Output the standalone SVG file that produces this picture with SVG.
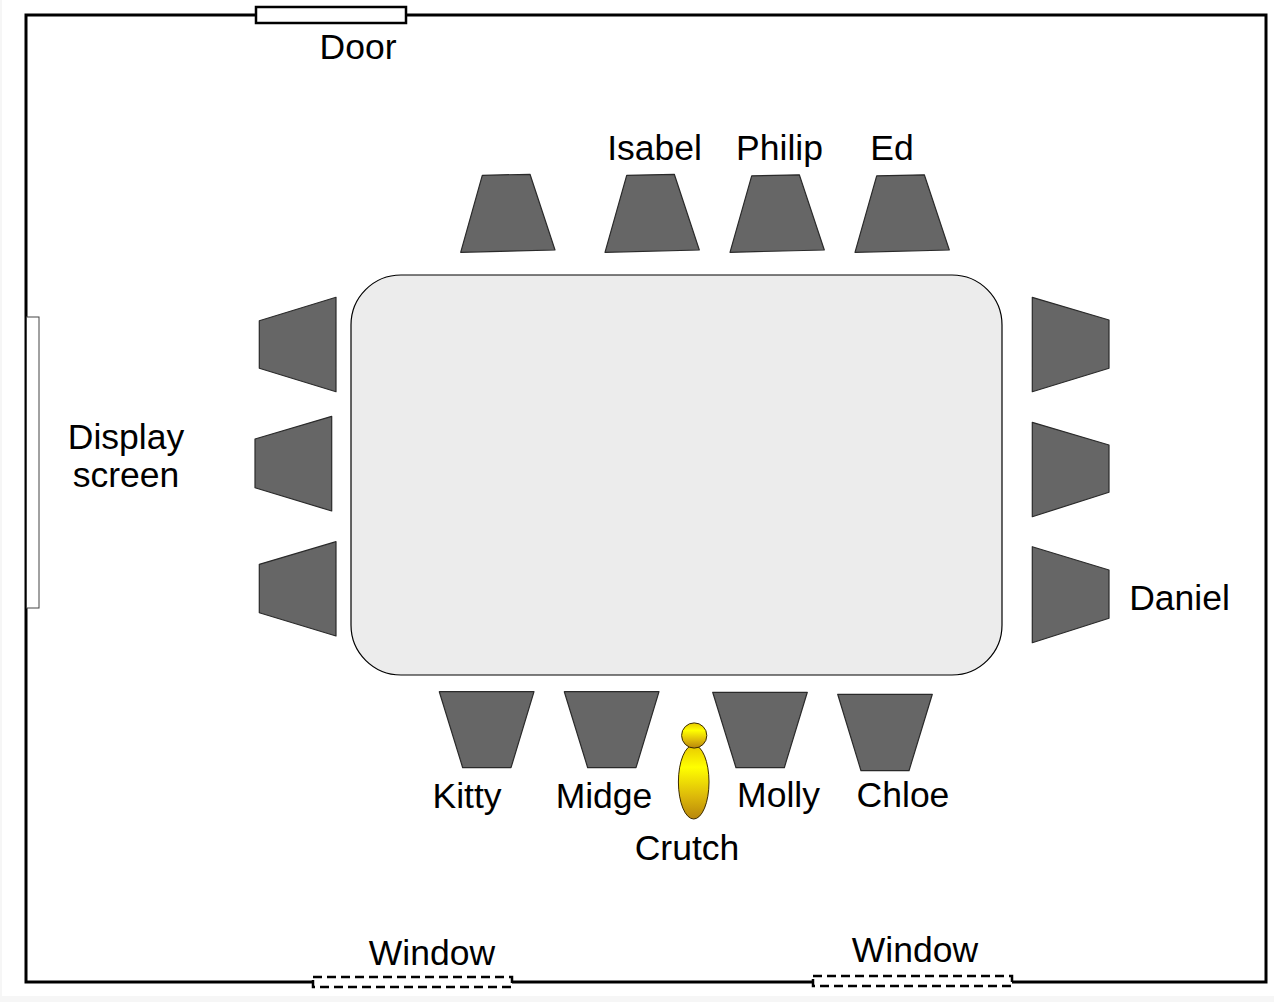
<svg xmlns="http://www.w3.org/2000/svg" width="1274" height="1002" viewBox="0 0 1274 1002">
<defs>
<style>
.wall{fill:none;stroke:#000;stroke-width:3}
.chair{fill:#666;stroke:#2a2a2a;stroke-width:1.2;stroke-linejoin:round}
.lbl{font-family:"Liberation Sans",Arial,sans-serif;font-size:35.5px;fill:#000;text-anchor:middle}
.win{fill:#fff;stroke:#000;stroke-width:2.5;stroke-dasharray:9,5}
</style>
<linearGradient id="gold" x1="0" y1="0" x2="0" y2="1">
<stop offset="0" stop-color="#e8c800"/>
<stop offset="0.3" stop-color="#ffff00"/>
<stop offset="0.7" stop-color="#dcb80a"/>
<stop offset="1" stop-color="#b8860b"/>
</linearGradient>
</defs>
<rect x="0" y="0" width="1274" height="1002" fill="#f6f6f6"/>
<rect x="2" y="0" width="1272" height="996" fill="#fff"/>
<g id="room">
<rect class="wall" x="26" y="15" width="1240" height="967"/>
</g>
<g id="door">
<rect x="256" y="7" width="150" height="16" fill="#fff" stroke="#000" stroke-width="2.5"/>
<text class="lbl" x="358" y="59">Door</text>
</g>
<g id="display-screen">
<rect x="26.5" y="317" width="12.5" height="291" fill="#fff" stroke="#444" stroke-width="1"/>
<text class="lbl" x="126" y="449">Display</text>
<text class="lbl" x="126" y="487">screen</text>
</g>
<g id="window-1">
<rect class="win" x="313" y="977" width="199" height="10"/>
<text class="lbl" x="432" y="965">Window</text>
</g>
<g id="window-2">
<rect class="win" x="813" y="976" width="199" height="10"/>
<text class="lbl" x="915" y="962">Window</text>
</g>
<g id="table">
<rect x="351" y="275" width="651" height="400" rx="50" ry="50" fill="#ececec" stroke="#000" stroke-width="1.2"/>
</g>
<g id="chairs-top">
<polygon class="chair" points="482.3,175.3 530,174.3 555,250 460.7,252.3"/>
<polygon class="chair" points="626.7,175.3 674.3,174.3 699.3,250 605,252.3"/>
<polygon class="chair" points="751.7,175.8 799.3,174.8 824.3,250 730,252.3"/>
<polygon class="chair" points="876.7,175.8 924.3,174.8 949.3,250 855,252.3"/>
</g>
<g id="chairs-left">
<polygon class="chair" points="336,297.3 336,391.7 259.3,368.3 259.3,320.7"/>
<polygon class="chair" points="331.7,416.3 331.7,511 255,487.7 255,439"/>
<polygon class="chair" points="336,541.7 336,636 259.3,612.7 259.3,564.3"/>
</g>
<g id="chairs-right">
<polygon class="chair" points="1032.3,297.3 1109,320 1109,368.3 1032.3,391.7"/>
<polygon class="chair" points="1032.3,422.3 1109,445 1109,492.3 1032.3,516.7"/>
<polygon class="chair" points="1032.3,546.7 1109,570 1109,618.3 1032.3,642.7"/>
</g>
<g id="chairs-bottom">
<polygon class="chair" points="439.3,691.7 534,691.7 511,767.7 462.7,767.7"/>
<polygon class="chair" points="564.3,691.7 659,691.7 636,767.7 587.7,767.7"/>
<polygon class="chair" points="712.7,692.3 807.3,692.3 784.3,767.7 736,767.7"/>
<polygon class="chair" points="837.7,694.3 932.3,694.3 909,770.7 861,770.7"/>
</g>
<g id="crutch">
<ellipse cx="693.7" cy="782" rx="15.3" ry="37" fill="url(#gold)" stroke="#3a2a00" stroke-width="1"/>
<circle cx="694.2" cy="735.5" r="12.6" fill="url(#gold)" stroke="#3a2a00" stroke-width="1"/>
<text class="lbl" x="687" y="860">Crutch</text>
</g>
<g id="labels">
<text class="lbl" x="654.5" y="160">Isabel</text>
<text class="lbl" x="779.5" y="160">Philip</text>
<text class="lbl" x="892" y="160">Ed</text>
<text class="lbl" x="1179.5" y="610">Daniel</text>
<text class="lbl" x="467" y="808">Kitty</text>
<text class="lbl" x="604" y="808">Midge</text>
<text class="lbl" x="778.5" y="807">Molly</text>
<text class="lbl" x="903" y="807">Chloe</text>
</g>
</svg>
